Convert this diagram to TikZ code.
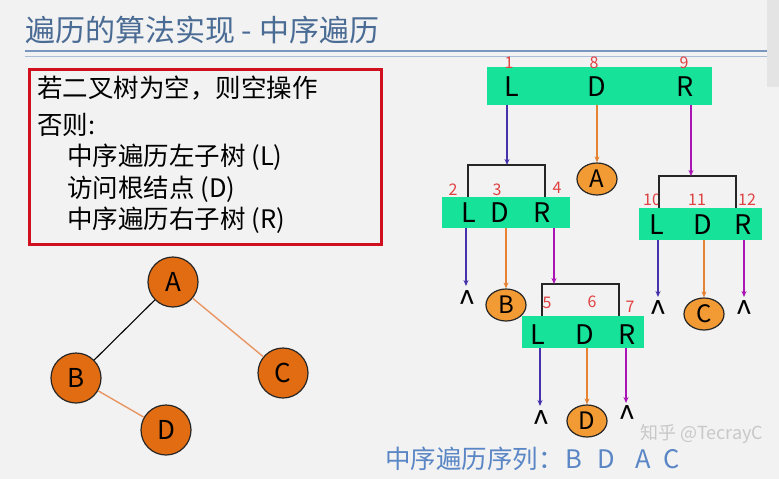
\documentclass[tikz,border=0pt]{standalone}
\usepackage{fontspec}
\setmainfont{Noto Sans CJK SC}
\usetikzlibrary{arrows.meta,shapes.geometric}
\definecolor{bg}{RGB}{242,242,242}
\definecolor{sidegray}{RGB}{228,228,228}
\definecolor{titlec}{RGB}{74,107,148}
\definecolor{ruleA}{RGB}{120,150,190}
\definecolor{ruleB}{RGB}{170,190,215}
\definecolor{boxred}{RGB}{208,16,30}
\definecolor{nodeor}{RGB}{226,108,18}
\definecolor{lightor}{RGB}{242,154,52}
\definecolor{edgeor}{RGB}{232,150,100}
\definecolor{barg}{RGB}{22,226,154}
\definecolor{numred}{RGB}{224,64,64}
\definecolor{lblue}{RGB}{70,50,170}
\definecolor{dorange}{RGB}{230,130,50}
\definecolor{purp}{RGB}{170,20,180}
\definecolor{seqblue}{RGB}{90,134,197}
\definecolor{wmark}{RGB}{200,200,200}
\newcommand{\fs}[1]{\fontsize{#1}{#1}\selectfont}
\tikzset{
  txt/.style={inner sep=0pt, anchor=west, font=\fs{25.5}},
  tcirc/.style={circle, draw=black!85, fill=nodeor, line width=1.2pt, minimum size=50pt, inner sep=0pt, font=\fs{26}},
  oell/.style={ellipse, draw=black!85, fill=lightor, line width=1.2pt, minimum width=40pt, minimum height=32pt, inner sep=0pt, font=\fs{24}},
  bar/.style={fill=barg, inner sep=0pt, draw=none},
  lt/.style={inner sep=0pt, font=\fs{27}},
  num/.style={inner sep=0pt, text=numred, font=\fs{16}},
  nul/.style={inner sep=0pt, anchor=base, font=\fs{32}, text height=0.7em, text depth=-0.3em},
  brk/.style={draw=black!85, line width=1.6pt},
  arL/.style={draw=lblue, line width=1.2pt, -{Stealth[length=6pt,width=5pt]}},
  arD/.style={draw=dorange, line width=1.2pt, -{Stealth[length=6pt,width=5pt]}},
  arR/.style={draw=purp, line width=1.2pt, -{Stealth[length=6pt,width=5pt]}},
}
\begin{document}
\begin{tikzpicture}[x=1pt,y=-1pt]
\path[use as bounding box] (0,0) rectangle (779,479);
\fill[bg] (0,0) rectangle (779,479);
\fill[sidegray] (767,0) rectangle (779,87);
% title
\node[txt, text=titlec, font=\fs{30}] (title) at (25,30) {遍历的算法实现 - 中序遍历};
\draw[ruleA, line width=2pt] (25,51) -- (767,51);
\draw[ruleB, line width=1pt] (25,56) -- (767,56);
% condition box
\node[draw=boxred, line width=3pt, minimum width=352pt, minimum height=175pt, anchor=north west, inner sep=0pt] (cond) at (28,68) {};
\node[txt] (t1) at (37,88) {若二叉树为空，则空操作};
\node[txt] (t2) at (37,125) {否则:};
\node[txt] (t3) at (67,157) {中序遍历左子树 (L)};
\node[txt] (t4) at (67,189) {访问根结点 (D)};
\node[txt] (t5) at (67,220) {中序遍历右子树 (R)};
% tree
\node[tcirc] (A) at (173,282) {A};
\node[tcirc] (B) at (76,378) {B};
\node[tcirc] (C) at (283,373) {C};
\node[tcirc] (D) at (166,430) {D};
\draw[black, line width=1.1pt] (A) -- (B);
\draw[edgeor, line width=1.4pt] (A) -- (C);
\draw[edgeor, line width=1.4pt] (B) -- (D);
% bars
\node[bar, minimum width=225pt, minimum height=38pt] (bar1) at (599.5,86) {};
\node[bar, minimum width=128pt, minimum height=31pt] (bar2) at (506,212.5) {};
\node[bar, minimum width=123pt, minimum height=32pt] (bar3) at (700.5,224) {};
\node[bar, minimum width=122pt, minimum height=32pt] (bar4) at (583,332) {};
% letters
\node[lt] (L1) at (512,87) {L};
\node[lt] (D1) at (597,87) {D};
\node[lt] (R1) at (685,87) {R};
\node[lt] (L2) at (469,213) {L};
\node[lt] (D2) at (500,213) {D};
\node[lt] (R2) at (542,213) {R};
\node[lt] (L3) at (657,225) {L};
\node[lt] (D3) at (703,225) {D};
\node[lt] (R3) at (743,225) {R};
\node[lt] (L4) at (538,335) {L};
\node[lt] (D4) at (585,335) {D};
\node[lt] (R4) at (627,335) {R};
% numbers
\node[num] (n1) at (509,63) {1};
\node[num] (n8) at (594,63) {8};
\node[num] (n9) at (684,63) {9};
\node[num] (n2) at (453,190) {2};
\node[num] (n3) at (497,190) {3};
\node[num] (n4) at (557,188) {4};
\node[num] (n10) at (652,200) {10};
\node[num] (n11) at (697,200) {11};
\node[num] (n12) at (747,200) {12};
\node[num] (n5) at (547,303) {5};
\node[num] (n6) at (592,302) {6};
\node[num] (n7) at (630,307) {7};
% brackets
\coordinate (b2l) at (468,165); \coordinate (b2r) at (545,165);
\coordinate (b3l) at (659,176); \coordinate (b3r) at (736,176);
\coordinate (b4l) at (542,284); \coordinate (b4r) at (619,284);
\draw[brk] (b2l |- bar2.north) -- (b2l) -- (b2r) -- (b2r |- bar2.north);
\draw[brk] (b3l |- bar3.north) -- (b3l) -- (b3r) -- (b3r |- bar3.north);
\draw[brk] (b4l |- bar4.north) -- (b4l) -- (b4r) -- (b4r |- bar4.north);
\coordinate (h2) at (507,165);
\coordinate (h3) at (691,176);
\coordinate (h4) at (554,284);
% value nodes
\node[oell] (eA) at (597,179) {A};
\node[oell] (eB) at (506,305) {B};
\node[oell] (eC) at (704,314) {C};
\node[oell] (eD) at (587,421) {D};
% null markers
\node[nul] (z1) at (467,314) {\textasciicircum};
\node[nul] (z2) at (658,324) {\textasciicircum};
\node[nul] (z3) at (744,324) {\textasciicircum};
\node[nul] (z4) at (541,434) {\textasciicircum};
\node[nul] (z5) at (627,429) {\textasciicircum};
% arrows
\draw[arL] (h2 |- bar1.south) -- (h2);
\draw[arD] (eA |- bar1.south) -- (eA.north);
\draw[arR] (h3 |- bar1.south) -- (h3);
\coordinate (p1) at (466,286);
\draw[arL] (p1 |- bar2.south) -- (p1);
\draw[arD] (eB |- bar2.south) -- (eB.north);
\draw[arR] (h4 |- bar2.south) -- (h4);
\coordinate (p2) at (658,297);
\coordinate (p3) at (744,297);
\draw[arL] (p2 |- bar3.south) -- (p2);
\draw[arD] (eC |- bar3.south) -- (eC.north);
\draw[arR] (p3 |- bar3.south) -- (p3);
\coordinate (p4) at (540,406);
\coordinate (p5) at (626,403);
\draw[arL] (p4 |- bar4.south) -- (p4);
\draw[arD] (eD |- bar4.south) -- (eD.north);
\draw[arR] (p5 |- bar4.south) -- (p5);
% sequence
\node[txt, text=seqblue] (seq) at (385,459) {中序遍历序列：\hspace{2pt}B\hspace{15pt}D\hspace{21pt}A\hspace{12pt}C};
\node[inner sep=0pt, anchor=west, text=wmark, font=\fs{18}] (wm) at (640,434) {知乎 @TecrayC};
\end{tikzpicture}
\end{document}
